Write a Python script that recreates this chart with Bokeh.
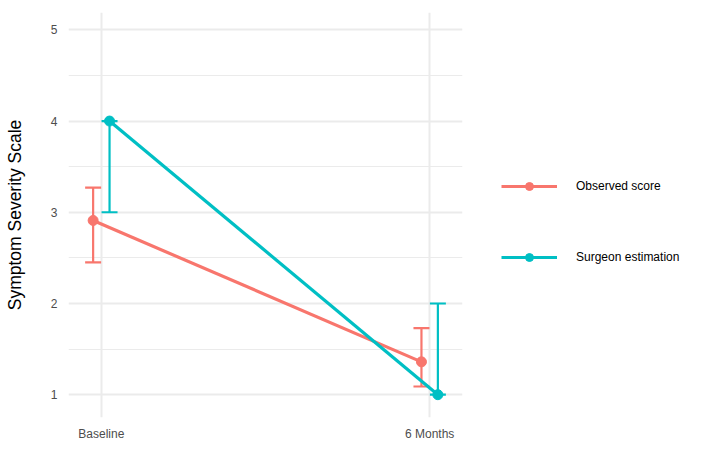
from bokeh.plotting import figure
from bokeh.models import ColumnDataSource, FixedTicker, Range1d, Whisker, TeeHead, Legend, LegendItem
from bokeh.embed import file_html
from bokeh.resources import INLINE

# ---- data ----
timepoints = ["Baseline", "6 Months"]
series_names = ["Observed score", "Surgeon estimation"]
observed_mean = [2.91, 1.36]
observed_lower = [2.45, 1.09]
observed_upper = [3.27, 1.73]
surgeon_mean = [4.0, 1.0]
surgeon_lower = [3.0, 1.0]
surgeon_upper = [4.0, 2.0]
y_ticks = [1, 2, 3, 4, 5]
y_minor_ticks = [1.5, 2.5, 3.5, 4.5]
colors = ["#F8766D", "#00BFC4"]
dodge = [-0.025, 0.025]

FONT = "Liberation Sans"

p = figure(frame_width=394, frame_height=405, output_backend="svg", toolbar_location=None,
           x_range=Range1d(0.9, 2.1), y_range=Range1d(0.75, 5.19),
           min_border_left=68, min_border_right=238, min_border_top=12, min_border_bottom=40)
p.outline_line_color = None
p.background_fill_color = "white"

xpos = [i + 1 for i in range(len(timepoints))]

series = [
    (observed_mean, observed_lower, observed_upper),
    (surgeon_mean, surgeon_lower, surgeon_upper),
]

items = []
for k, (m, lo, hi) in enumerate(series):
    src = ColumnDataSource(dict(x=[x + dodge[k] for x in xpos], y=m, lo=lo, hi=hi))
    ln = p.line("x", "y", source=src, line_color=colors[k], line_width=3.2)
    w = Whisker(base="x", lower="lo", upper="hi", source=src, dimension="height",
                line_color=colors[k], line_width=2.2,
                upper_head=TeeHead(size=16, line_color=colors[k], line_width=2.2),
                lower_head=TeeHead(size=16, line_color=colors[k], line_width=2.2))
    p.add_layout(w)
    sc = p.scatter("x", "y", source=src, size=10, fill_color=colors[k], line_color=colors[k])
    items.append(LegendItem(label=series_names[k], renderers=[ln, sc]))

legend = Legend(items=items, location=(39, 150), orientation="vertical",
                glyph_width=56, glyph_height=20, label_height=20, label_standoff=19,
                spacing=51, padding=10, margin=0,
                label_text_font=FONT, label_text_font_size="12px", label_text_color="#000000",
                border_line_color=None, background_fill_alpha=0)
p.add_layout(legend, "right")

# axes
p.xaxis.ticker = FixedTicker(ticks=xpos)
p.xaxis.major_label_overrides = {x: t for x, t in zip(xpos, timepoints)}
p.yaxis.ticker = FixedTicker(ticks=y_ticks, minor_ticks=y_minor_ticks)
p.yaxis.axis_label = "Symptom Severity Scale"

for ax in (p.xaxis, p.yaxis):
    ax.axis_line_color = None
    ax.major_tick_line_color = None
    ax.minor_tick_line_color = None
    ax.major_tick_out = 0
    ax.major_tick_in = 0
    ax.minor_tick_out = 0
    ax.minor_tick_in = 0
    ax.major_label_text_font = FONT
    ax.major_label_text_font_size = "12px"
    ax.major_label_text_color = "#4D4D4D"
    ax.axis_label_text_font = FONT
    ax.axis_label_text_font_style = "normal"
    ax.axis_label_text_font_size = "17.5px"
    ax.axis_label_text_color = "#000000"
p.yaxis.major_label_standoff = 11
p.xaxis.major_label_standoff = 9
p.yaxis.axis_label_standoff = 23

p.xgrid.grid_line_color = "#EBEBEB"
p.xgrid.grid_line_width = 2
p.ygrid.grid_line_color = "#EBEBEB"
p.ygrid.grid_line_width = 2
p.ygrid.minor_grid_line_color = "#EBEBEB"
p.ygrid.minor_grid_line_width = 1

open("out.html", "w").write(file_html(p, INLINE))
